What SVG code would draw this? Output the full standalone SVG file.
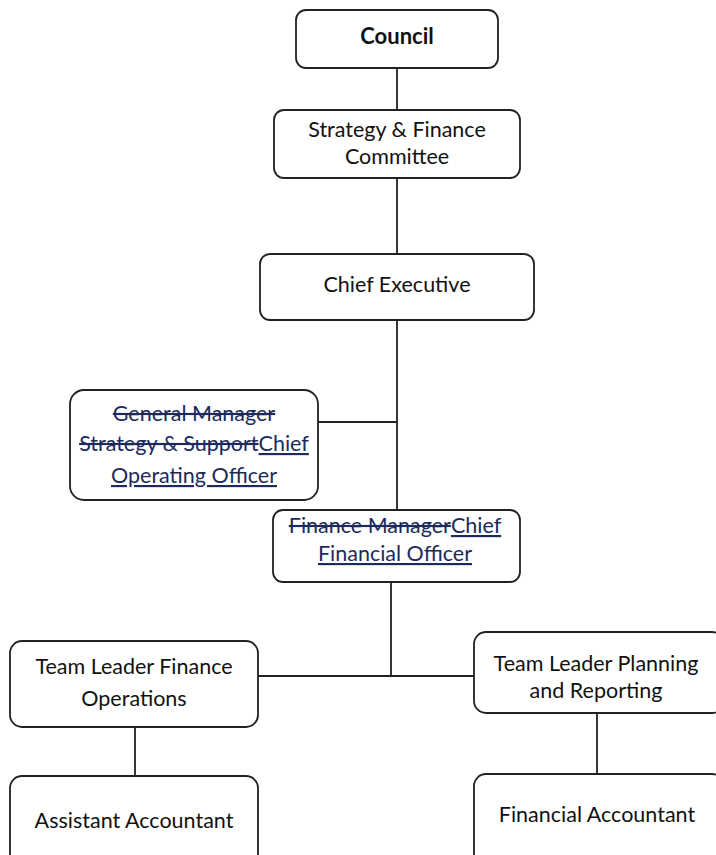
<svg xmlns="http://www.w3.org/2000/svg" width="716" height="855" viewBox="0 0 716 855">
<style>
.box{fill:#fff;stroke:#222;stroke-width:1.8}
.t{font-family:Lato,"Open Sans",sans-serif;font-size:21.5px;fill:#111;text-anchor:middle}
.b{font-weight:bold;font-size:22px}
.n{fill:#1c2a5c}
.s{text-decoration:line-through}
.u{text-decoration:underline}
.c{fill:none;stroke:#222;stroke-width:1.8}
</style>
<rect width="716" height="855" fill="#fff"/>
<g id="connectors">
<path class="c" d="M397 68V110M397 178V254M397 320V510M318 422H397M391 582V676M258 676H474M135 727V776M597 713V774"/>
<path class="c" d="M391 676H474" stroke-width="3"/>
</g>
<g id="council"><rect class="box" x="296" y="10" width="202" height="58" rx="10"/><text class="t b" x="397" y="44">Council</text></g>
<g id="sfc"><rect class="box" x="274" y="110" width="246" height="68" rx="10"/><text class="t" x="397" y="137">Strategy &amp; Finance</text><text class="t" x="397" y="164">Committee</text></g>
<g id="ce"><rect class="box" x="260" y="254" width="274" height="66" rx="10"/><text class="t" x="397" y="292">Chief Executive</text></g>
<g id="gm"><rect class="box" x="70" y="390" width="248" height="110" rx="14"/>
<text class="t n" x="194" y="421"><tspan class="s">General Manager</tspan></text>
<text class="t n" x="194" y="451"><tspan class="s">Strategy &amp; Support</tspan><tspan class="u">Chief</tspan></text>
<text class="t n" x="194" y="483"><tspan class="u">Operating Officer</tspan></text></g>
<g id="fm"><rect class="box" x="273" y="510" width="247" height="72" rx="10"/>
<text class="t n" x="395" y="533"><tspan class="s">Finance Manager</tspan><tspan class="u">Chief</tspan></text>
<text class="t n" x="395" y="561"><tspan class="u">Financial Officer</tspan></text></g>
<g id="tlfo"><rect class="box" x="10" y="641" width="248" height="86" rx="12"/><text class="t" x="134" y="674">Team Leader Finance</text><text class="t" x="134" y="706">Operations</text></g>
<g id="tlpr"><rect class="box" x="474" y="632" width="250" height="81" rx="12"/><text class="t" x="596" y="671">Team Leader Planning</text><text class="t" x="596" y="698">and Reporting</text></g>
<g id="aa"><rect class="box" x="10" y="776" width="248" height="90" rx="12"/><text class="t" x="134" y="828">Assistant Accountant</text></g>
<g id="fa"><rect class="box" x="474" y="774" width="250" height="92" rx="12"/><text class="t" x="597" y="822">Financial Accountant</text></g>
</svg>
